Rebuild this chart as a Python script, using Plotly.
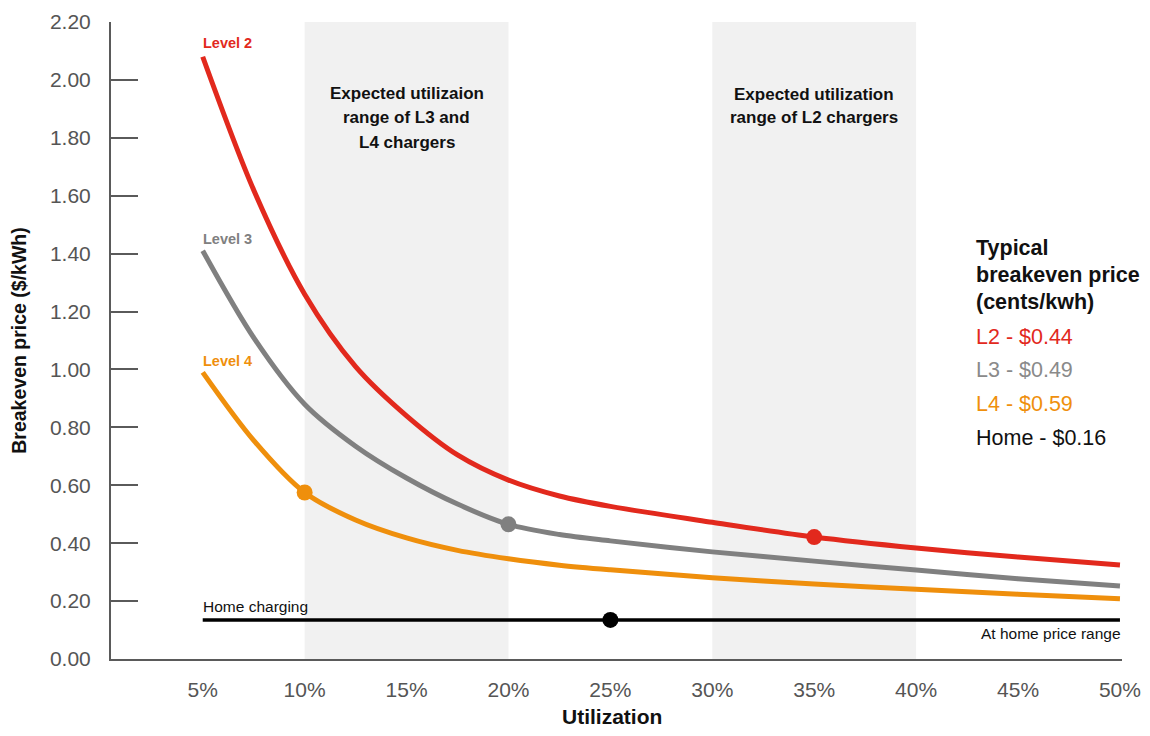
import plotly.graph_objects as go

# Data (utilization in %, breakeven price in $/kWh)
utilization = [5, 7.5, 10, 12.5, 15, 17.5, 20, 22.5, 25, 30, 35, 40, 45, 50]
level2 = [2.08, 1.62, 1.26, 1.01, 0.84, 0.705, 0.618, 0.563, 0.527, 0.472, 0.421, 0.383, 0.352, 0.325]
level3 = [1.41, 1.11, 0.88, 0.735, 0.625, 0.535, 0.465, 0.430, 0.408, 0.370, 0.338, 0.307, 0.277, 0.252]
level4 = [0.99, 0.755, 0.575, 0.48, 0.418, 0.375, 0.346, 0.324, 0.308, 0.281, 0.259, 0.241, 0.224, 0.208]
home_x = [5, 50]
home_y = [0.135, 0.135]

markers_x = [35, 20, 10, 25]
markers_y = [0.421, 0.465, 0.575, 0.135]

bands = [(10, 20), (30, 40)]
band_lines = [["Expected utilizaion", "range of L3 and", "L4 chargers"],
              ["Expected utilization", "range of L2 chargers"]]

x_ticks = [5, 10, 15, 20, 25, 30, 35, 40, 45, 50]
x_tick_labels = ["5%", "10%", "15%", "20%", "25%", "30%", "35%", "40%", "45%", "50%"]
y_ticks = [0, 0.2, 0.4, 0.6, 0.8, 1.0, 1.2, 1.4, 1.6, 1.8, 2.0, 2.2]

header_lines = ["Typical", "breakeven price", "(cents/kwh)"]
legend_lines = [("L2 - $0.44", "#e2291d"), ("L3 - $0.49", "#8a8a8a"),
                ("L4 - $0.59", "#ef8f0c"), ("Home - $0.16", "#111111")]

RED = "#e2291d"
GRAY = "#808080"
ORANGE = "#ef8f0c"
BLACK = "#000000"
FONT = "Liberation Sans, Arial, Helvetica, sans-serif"

# plot-area pixel helpers for annotation placement (paper coords, page pixels)
PLOT_TOP, PLOT_BOTTOM = 22, 659
def py(ypix):
    return (PLOT_BOTTOM - ypix) / (PLOT_BOTTOM - PLOT_TOP)

fig = go.Figure()

for (x0, x1) in bands:
    fig.add_shape(type="rect", x0=x0, x1=x1, y0=0, y1=2.2, xref="x", yref="y",
                  fillcolor="#f1f1f1", line=dict(width=0), layer="below")

for ys, c in [(level2, RED), (level3, GRAY), (level4, ORANGE)]:
    fig.add_trace(go.Scatter(x=utilization, y=ys, mode="lines",
                             line=dict(color=c, width=5, shape="spline", smoothing=0.9),
                             hoverinfo="skip", showlegend=False))

fig.add_trace(go.Scatter(x=home_x, y=home_y, mode="lines",
                         line=dict(color=BLACK, width=3.5), showlegend=False))

fig.add_trace(go.Scatter(x=markers_x, y=markers_y, mode="markers",
                         marker=dict(size=16, color=[RED, GRAY, ORANGE, BLACK]),
                         showlegend=False))

# Band annotations (one per line)
band_line_y = [[94, 118, 142], [95, 118]]
for (x0, x1), lines, ys in zip(bands, band_lines, band_line_y):
    for t, ypix in zip(lines, ys):
        fig.add_annotation(x=(x0 + x1) / 2, y=py(ypix), xref="x", yref="paper",
                           text="<b>" + t + "</b>", showarrow=False, yanchor="middle",
                           font=dict(size=17, color="#111111", family=FONT))

# Curve labels
for label, ypix, c in [("Level 2", 43, RED), ("Level 3", 239, GRAY), ("Level 4", 361, ORANGE)]:
    fig.add_annotation(x=5, y=py(ypix), xref="x", yref="paper", text="<b>" + label + "</b>",
                       showarrow=False, xanchor="left", yanchor="middle", xshift=-2,
                       font=dict(size=14.5, color=c, family=FONT))

fig.add_annotation(x=5, y=py(606), xref="x", yref="paper", text="Home charging", showarrow=False,
                   xanchor="left", yanchor="middle", xshift=-2,
                   font=dict(size=15.5, color="#111111", family=FONT))
fig.add_annotation(x=50, y=py(633), xref="x", yref="paper", text="At home price range",
                   showarrow=False, xanchor="right", yanchor="middle", xshift=3,
                   font=dict(size=15.5, color="#111111", family=FONT))

# Right-side legend text
LEG_X = 42.85
for t, ypix in zip(header_lines, [248, 275, 302]):
    fig.add_annotation(x=LEG_X, y=py(ypix), xref="x", yref="paper", text="<b>" + t + "</b>",
                       showarrow=False, xanchor="left", yanchor="middle",
                       font=dict(size=21.5, color="#111111", family=FONT))
for (t, c), ypix in zip(legend_lines, [337, 370, 404, 438]):
    fig.add_annotation(x=LEG_X, y=py(ypix), xref="x", yref="paper", text=t, showarrow=False,
                       xanchor="left", yanchor="middle",
                       font=dict(size=21.5, color=c, family=FONT))

# X axis title placed as an annotation for exact positioning
fig.add_annotation(x=0.5, y=py(716), xref="paper", yref="paper", text="<b>Utilization</b>",
                   showarrow=False, xanchor="center", yanchor="middle", xshift=-5,
                   font=dict(size=21, color="#111111", family=FONT))

# The page body has an 8px margin, so the figure is sized/offset to compensate.
fig.update_layout(
    width=1142, height=720,
    margin=dict(l=103, r=28, t=14, b=69),
    plot_bgcolor="white", paper_bgcolor="white",
    font=dict(family=FONT),
    xaxis=dict(range=[0.5, 50.1], tickvals=x_ticks, ticktext=x_tick_labels, automargin=False,
               showgrid=False, zeroline=False, showline=True, linecolor="#5a5a5a", linewidth=2,
               ticks="", tickfont=dict(size=21, color="#555555"), ticklabelstandoff=11),
    yaxis=dict(range=[0, 2.2], tickvals=y_ticks, tickformat=".2f", automargin=False,
               showgrid=False, zeroline=False, showline=True, linecolor="#5a5a5a", linewidth=2,
               ticks="inside", ticklen=27, tickwidth=2, tickcolor="#5a5a5a",
               tickfont=dict(size=21, color="#555555"), ticklabelstandoff=14,
               title=dict(text="<b>Breakeven price ($/kWh)</b>", font=dict(size=19.5, color="#111111"), standoff=18)),
)

fig.write_html("out.html")
